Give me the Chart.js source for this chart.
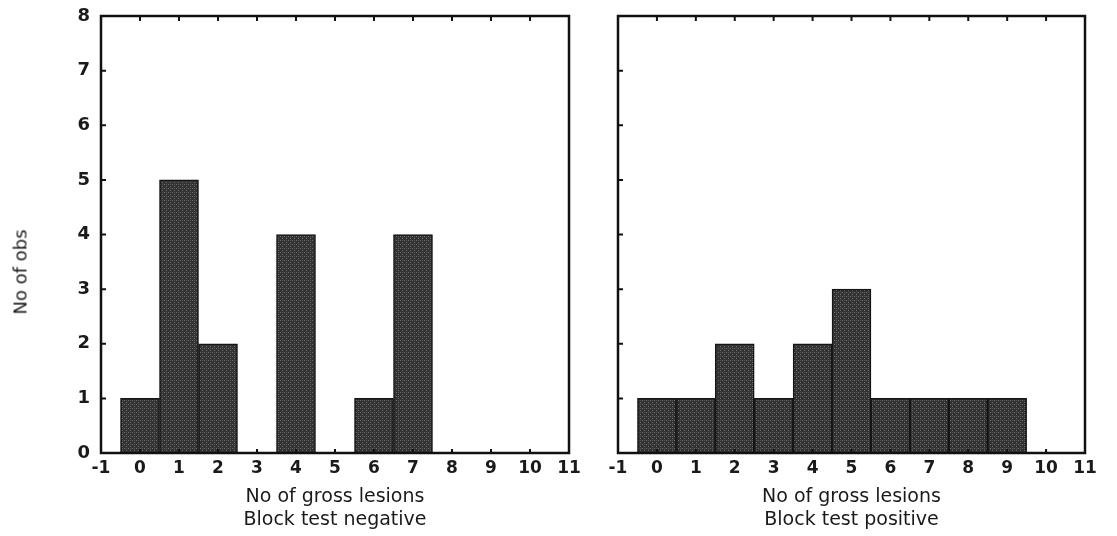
<!DOCTYPE html>
<html>
<head>
<meta charset="utf-8">
<script src="https://cdn.jsdelivr.net/npm/chart.js@4/dist/chart.umd.min.js"></script>
<style>
    body { margin: 0; background: #fff; width: 1117px; height: 536px; overflow: hidden; position: relative; }
    canvas { position: absolute; top: 0; }
    #leftChart { left: 0; }
    #rightChart { left: 590px; }
    #yTitle {
        position: absolute; left: 20px; top: 272px;
        transform: translate(-50%, -50%) rotate(-90deg);
        font: 18px "DejaVu Sans", sans-serif; color: #1a1a1a; white-space: nowrap;
    }
</style>
</head>
<body>
<canvas id="leftChart" width="590" height="536"></canvas>
<canvas id="rightChart" width="527" height="536"></canvas>
<div id="yTitle">No of obs</div>
<script>
let lesionCounts = [0, 1, 2, 3, 4, 5, 6, 7, 8, 9];
let obsNegative = [1, 5, 2, 0, 4, 0, 1, 4, 0, 0];
let obsPositive = [1, 1, 2, 1, 2, 3, 1, 1, 1, 1];
let xTickValues = [-1, 0, 1, 2, 3, 4, 5, 6, 7, 8, 9, 10, 11];
let yTickValues = [0, 1, 2, 3, 4, 5, 6, 7, 8];

function makeStipple() {
    // fine grey stipple like the scanned print
    let c = document.createElement('canvas');
    c.width = 4;
    c.height = 4;
    let g = c.getContext('2d');
    g.fillStyle = '#333333';
    g.fillRect(0, 0, 4, 4);
    g.fillStyle = '#6e6e6e';
    g.fillRect(0, 0, 1, 1);
    g.fillRect(2, 2, 1, 1);
    g.fillStyle = '#555555';
    g.fillRect(2, 0, 1, 1);
    return g.createPattern(c, 'repeat');
}

let framePlugin = {
    id: 'frame',
    afterDraw(chart) {
        let ctx = chart.ctx;
        let a = chart.chartArea;
        let xs = chart.scales.x;
        let ys = chart.scales.y;
        ctx.save();
        ctx.strokeStyle = '#111';
        ctx.lineWidth = 2.5;
        ctx.strokeRect(a.left, a.top, a.right - a.left, a.bottom - a.top);
        ctx.lineWidth = 2;
        ctx.beginPath();
        xTickValues.slice(1, -1).forEach(v => {
            let px = xs.getPixelForValue(v);
            ctx.moveTo(px, a.top);
            ctx.lineTo(px, a.top + 5);
            ctx.moveTo(px, a.bottom);
            ctx.lineTo(px, a.bottom - 4);
        });
        yTickValues.slice(1, -1).forEach(v => {
            let py = ys.getPixelForValue(v);
            ctx.moveTo(a.left, py);
            ctx.lineTo(a.left + 5, py);
        });
        ctx.stroke();
        ctx.restore();
    }
};

function makeChart(canvasId, values, subtitle, showYLabels, yAxisWidth, rightPad) {
    return new Chart(
            document.getElementById(canvasId),
            {
                type: 'bar',
                data: {
                    datasets: [
                        {
                            data: lesionCounts.map((x, i) => ({x: x, y: values[i]})),
                            backgroundColor: makeStipple(),
                            borderColor: '#151515',
                            borderWidth: 1.5,
                            barPercentage: 1,
                            categoryPercentage: 1
                        }
                    ]
                },
                plugins: [framePlugin],
                options: {
                    responsive: false,
                    animation: false,
                    layout: {
                        padding: {top: 16, right: rightPad, left: 0, bottom: 0}
                    },
                    plugins: {
                        legend: {display: false},
                        tooltip: {enabled: false}
                    },
                    scales: {
                        x: {
                            type: 'linear',
                            min: -1,
                            max: 11,
                            offset: false,
                            afterBuildTicks: scale => {
                                scale.ticks = xTickValues.map(v => ({value: v}));
                            },
                            afterFit: scale => {
                                scale.height = 83;
                                scale.paddingLeft = 0;
                                scale.paddingRight = 0;
                            },
                            grid: {display: false, drawTicks: false, tickLength: 0},
                            border: {display: false},
                            ticks: {
                                autoSkip: false,
                                maxRotation: 0,
                                padding: 5,
                                color: '#1a1a1a',
                                font: {family: 'DejaVu Sans', size: 17, weight: 'bold'}
                            },
                            title: {
                                display: true,
                                text: ['No of gross lesions', subtitle],
                                color: '#1a1a1a',
                                padding: {top: 0, bottom: 5},
                                font: {family: 'DejaVu Sans', size: 19, lineHeight: 1.2}
                            }
                        },
                        y: {
                            min: 0,
                            max: 8,
                            afterBuildTicks: scale => {
                                scale.ticks = yTickValues.map(v => ({value: v}));
                            },
                            afterFit: scale => {
                                scale.width = yAxisWidth;
                                scale.paddingTop = 0;
                                scale.paddingBottom = 0;
                            },
                            grid: {display: false, drawTicks: false, tickLength: 0},
                            border: {display: false},
                            ticks: {
                                display: showYLabels,
                                padding: 11,
                                color: '#1a1a1a',
                                font: {family: 'DejaVu Sans', size: 18, weight: 'bold'}
                            }
                        }
                    }
                }
            }
    );
}

makeChart('leftChart', obsNegative, 'Block test negative', true, 101, 21);
makeChart('rightChart', obsPositive, 'Block test positive', false, 28, 32);
</script>
</body>
</html>
